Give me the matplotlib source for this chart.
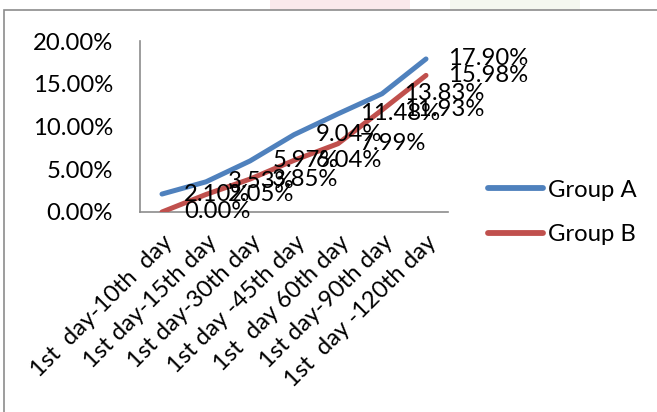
import matplotlib
matplotlib.use("Agg")
import matplotlib.pyplot as plt
from matplotlib.patches import Rectangle
from matplotlib.ticker import FuncFormatter

plt.rcParams['font.family'] = ['Lato', 'DejaVu Sans']

categories = ["1st  day-10th  day", "1st day-15th day", "1st day-30th day",
              "1st day -45th day", "1st  day 60th day", "1st day-90th day",
              "1st  day -120th day"]
group_a = [2.10, 3.53, 5.97, 9.04, 11.48, 13.83, 17.90]
group_b = [0.00, 2.05, 3.85, 6.04, 7.99, 11.93, 15.98]
series_names = ["Group A", "Group B"]
yticks = [0, 5, 10, 15, 20]

W, H = 657, 412
fig = plt.figure(figsize=(W / 100, H / 100), dpi=100)
fig.patch.set_facecolor("white")

# faint banner strip above the chart frame
fig.patches.append(Rectangle((270 / W, 1 - 10 / H), 140 / W, 10 / H, transform=fig.transFigure,
                             facecolor="#fae9eb", edgecolor="none", zorder=-2))
fig.patches.append(Rectangle((450 / W, 1 - 10 / H), 130 / W, 10 / H, transform=fig.transFigure,
                             facecolor="#f4f7ef", edgecolor="none", zorder=-2))

# chart frame
fig.patches.append(Rectangle((4 / W, -0.1), 1.2, 1 - 10 / H + 0.1, transform=fig.transFigure,
                             facecolor="white", edgecolor="#8c8c8c", linewidth=1.2, zorder=-1))

ax = fig.add_axes([140 / W, 1 - 212 / H, (448 - 140) / W, (212 - 41) / H])
ax.set_zorder(2)
ax.set_facecolor("none")
x = list(range(len(categories)))
fs = 17.2
blue, red = "#4f81bd", "#c0504d"

ax.plot(x, group_a, color=blue, lw=3.6, solid_capstyle="round", label=series_names[0], zorder=3)
ax.plot(x, group_b, color=red, lw=3.6, solid_capstyle="round", label=series_names[1], zorder=3)

for xs, vals in ((x, group_a), (x, group_b)):
    for xi, v in zip(xs, vals):
        ax.annotate(f"{v:.2f}%", (xi, v), xytext=(16, 0), textcoords="offset points",
                    ha="left", va="center", fontsize=fs, color="black", zorder=4,
                    annotation_clip=False)

ax.set_xlim(-0.5, len(categories) - 0.5)
ax.set_ylim(0, 20)
ax.set_yticks(yticks)
ax.yaxis.set_major_formatter(FuncFormatter(lambda v, p: f"{v:.2f}%"))
ax.set_xticks(x)
ax.set_xticklabels(categories, rotation=45, ha="right", rotation_mode="anchor")
ax.tick_params(axis="both", length=0, labelsize=fs, colors="black")
ax.tick_params(axis="y", pad=19.5)
ax.tick_params(axis="x", pad=14)

for s in ("top", "right"):
    ax.spines[s].set_visible(False)
for s in ("left", "bottom"):
    ax.spines[s].set_color("#8c8c8c")
    ax.spines[s].set_linewidth(1.2)

leg = fig.legend(loc="center left", bbox_to_anchor=(488 / W, 1 - 212.5 / H),
                 frameon=False, fontsize=fs, handlelength=2.3, handletextpad=0.2,
                 labelspacing=1.0, borderpad=0, borderaxespad=0)
for line in leg.get_lines():
    line.set_linewidth(4.2)
    line.set_solid_capstyle("round")

fig.savefig("out.png", dpi=100, facecolor="white")
